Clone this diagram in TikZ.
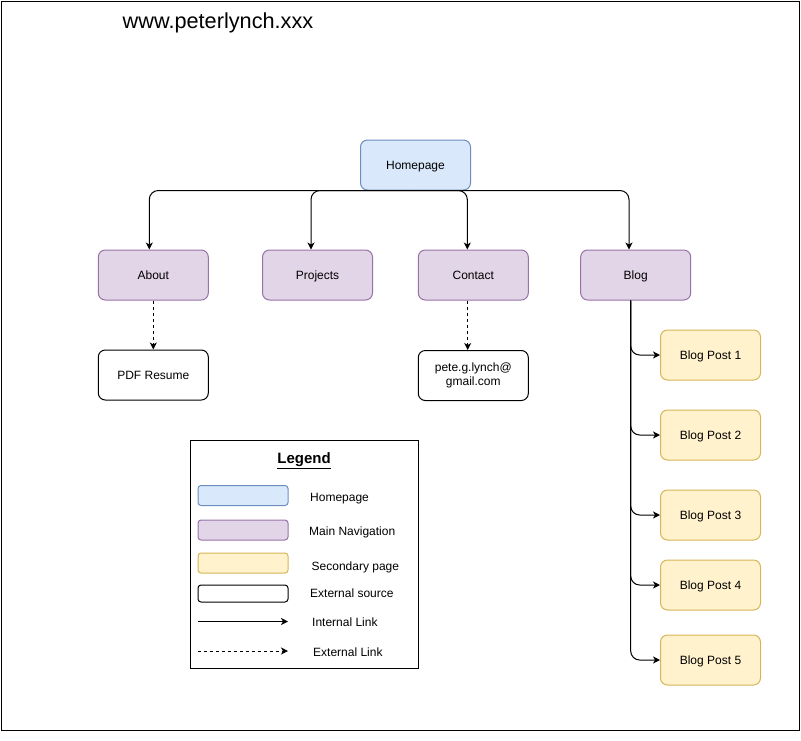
\documentclass[tikz,border=0pt]{standalone}
\usepackage{fontspec}
\setmainfont{Liberation Sans}
\usepackage{xcolor}
\usetikzlibrary{arrows.meta}
\definecolor{homefill}{HTML}{DAE8FC}
\definecolor{homedraw}{HTML}{6C8EBF}
\definecolor{navfill}{HTML}{E1D5E7}
\definecolor{navdraw}{HTML}{9673A6}
\definecolor{secfill}{HTML}{FFF2CC}
\definecolor{secdraw}{HTML}{D6B656}

\begin{document}
\begin{tikzpicture}[x=1pt, y=-1pt,
	page/.style={rectangle, rounded corners=7pt, minimum width=110pt, minimum height=50pt, inner sep=0pt, line width=1pt, font=\fontsize{12}{14}\selectfont, text height=8.6pt, text depth=0pt},
	homepage/.style={page, draw=homedraw, fill=homefill},
	mainnav/.style={page, draw=navdraw, fill=navfill},
	secondary/.style={page, draw=secdraw, fill=secfill, minimum width=100pt},
	external/.style={page, draw=black, fill=white, align=center},
	swatch/.style={minimum width=90pt, minimum height=20pt, rounded corners=3pt},
	keylabel/.style={anchor=west, inner sep=0pt, font=\fontsize{12}{14}\selectfont, text height=8.6pt, text depth=0pt},
	internal link/.style={-{Stealth[length=7pt, width=7pt, inset=2pt]}, line width=1pt, rounded corners=9pt},
	external link/.style={internal link, dash pattern=on 3pt off 3pt}]
	\useasboundingbox (0,0) rectangle (801,740);
	\draw[line width=1pt] (1,1) rectangle (799,730);
	\node[font=\fontsize{21.7}{26}\selectfont] (title) at (218,22.5) {www.peterlynch.xxx};

	% main pages
	\node[homepage] (home) at (415.5,165) {Homepage};
	\node[mainnav] (about) at (153.3,275) {About};
	\node[mainnav] (projects) at (317.5,275) {Projects};
	\node[mainnav] (contact) at (473.3,275) {Contact};
	\node[mainnav] (blog) at (635.7,275) {Blog};
	\node[external] (resume) at (153.3,375) {PDF Resume};
	\node[external, text height=, text depth=] (email) at (473.3,375.5) {pete.g.lynch@\\gmail.com};

	\draw[internal link](home.south) -| ([xshift=-4pt]about.north);
	\draw[internal link](home.south) -| ([xshift=-6.5pt]projects.north);
	\draw[internal link](home.south) -| ([xshift=-6pt]contact.north);
	\draw[internal link](home.south) -| ([xshift=-6.7pt]blog.north);
	\draw[external link](about.south) -- (resume.north);
	\draw[external link]([xshift=-5.6pt]contact.south) -- ([xshift=-5.6pt]email.north);

	% blog posts
	\foreach \c/\y in {1/355, 2/435, 3/515, 4/585, 5/660}
	{
		\node[secondary] (post\c) at (710.5,\y) {Blog Post \c};
		\draw[internal link]([xshift=-5pt]blog.south) |- (post\c.west);
	}

	% legend
	\node[draw, line width=1pt, minimum width=228pt, minimum height=228pt, inner sep=0pt] (legend) at (304,554) {};
	\node[font=\fontsize{15}{18}\selectfont\bfseries] (legendtitle) at (304,461) {\underline{Legend}};
	\node[page, swatch, draw=homedraw, fill=homefill] (keyhome) at (243,495.5) {};
	\node[page, swatch, draw=navdraw, fill=navfill] (keynav) at (243,530) {};
	\node[page, swatch, draw=secdraw, fill=secfill] (keysec) at (243,563) {};
	\node[page, swatch, draw=black, fill=white, minimum height=17pt] (keyext) at (243,593.5) {};
	\coordinate (intstart) at (198,621.5);
	\coordinate (intend) at (288,621.5);
	\coordinate (extstart) at (198,651);
	\coordinate (extend) at (288,651);
	\draw[internal link](intstart) -- (intend);
	\draw[external link](extstart) -- (extend);
	\node[keylabel] (labhome) at (310,497) {Homepage};
	\node[keylabel] (labnav) at (309,531) {Main Navigation};
	\node[keylabel] (labsec) at (311.5,566) {Secondary page};
	\node[keylabel] (labext) at (310,593.5) {External source};
	\node[keylabel] (labint) at (312,622.5) {Internal Link};
	\node[keylabel] (lablink) at (313,652.5) {External Link};
\end{tikzpicture}
\end{document}
